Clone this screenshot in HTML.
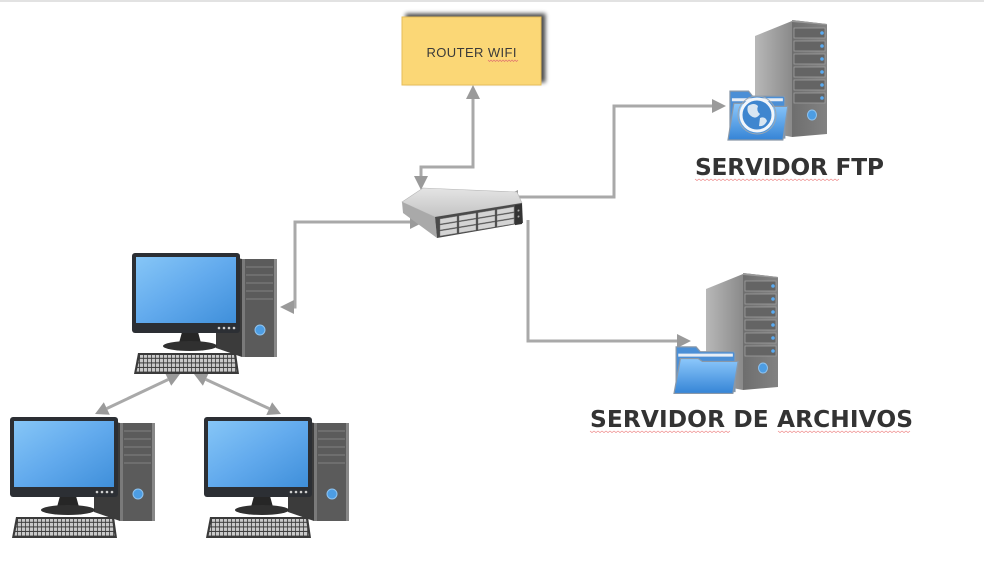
<!DOCTYPE html>
<html><head><meta charset="utf-8"><style>
html,body{margin:0;padding:0;background:#fff;}
svg{display:block;}
</style></head><body>
<svg width="984" height="569" viewBox="0 0 984 569" xmlns="http://www.w3.org/2000/svg">
<defs>
  <linearGradient id="scr" x1="0" y1="0" x2="1" y2="1">
    <stop offset="0" stop-color="#86c6f7"/><stop offset="0.5" stop-color="#62aaed"/><stop offset="1" stop-color="#3f8fda"/>
  </linearGradient>
  <linearGradient id="tside" x1="0" y1="0" x2="1" y2="0">
    <stop offset="0" stop-color="#b8b8b8"/><stop offset="1" stop-color="#8a8a8a"/>
  </linearGradient>
  <linearGradient id="tfront" x1="0" y1="0" x2="1" y2="0">
    <stop offset="0" stop-color="#6e6e6e"/><stop offset="1" stop-color="#828282"/>
  </linearGradient>
  <linearGradient id="fold" x1="0" y1="0" x2="0" y2="1">
    <stop offset="0" stop-color="#8cc8fb"/><stop offset="1" stop-color="#3584d6"/>
  </linearGradient>
  <linearGradient id="swtop" x1="0" y1="0" x2="0" y2="1">
    <stop offset="0" stop-color="#e4e4e4"/><stop offset="1" stop-color="#c4c4c4"/>
  </linearGradient>
  <pattern id="keys" width="4" height="4.6" patternUnits="userSpaceOnUse">
    <rect x="0" y="0" width="3.2" height="3.6" fill="#c9c9c9"/>
  </pattern>
  <filter id="sh" x="-20%" y="-30%" width="140%" height="160%">
    <feGaussianBlur in="SourceAlpha" stdDeviation="2.2"/>
    <feOffset dx="4" dy="-3"/>
    <feComponentTransfer><feFuncA type="linear" slope="0.7"/></feComponentTransfer>
    <feMerge><feMergeNode/><feMergeNode in="SourceGraphic"/></feMerge>
  </filter>

  <g id="pc">
    <polygon points="84,0 110,6 110,104 84,95" fill="#3b3b3b"/>
    <rect x="110" y="6" width="35" height="98" fill="#5b5b5b"/>
    <rect x="110" y="6" width="3" height="98" fill="#7a7a7a"/>
    <rect x="142" y="6" width="3" height="98" fill="#888"/>
    <g stroke="#828282" stroke-width="1">
      <line x1="114" y1="14" x2="141" y2="14"/>
      <line x1="114" y1="22" x2="141" y2="22"/>
      <line x1="114" y1="30" x2="141" y2="30"/>
      <line x1="114" y1="38" x2="141" y2="38"/>
      <line x1="114" y1="46" x2="141" y2="46"/>
    </g>
    <circle cx="128" cy="77" r="5" fill="#4d9de3" stroke="#8fc3ef" stroke-width="1"/>
    <polygon points="50,79 66,79 69,90 47,90" fill="#262626"/>
    <ellipse cx="58" cy="93" rx="27" ry="5" fill="#303030"/>
    <rect x="0" y="0" width="108" height="80" rx="3" fill="#2c2f34"/>
    <rect x="4" y="4" width="100" height="66" fill="url(#scr)"/>
    <g fill="#cfcfcf">
      <circle cx="87" cy="75" r="1.3"/><circle cx="92" cy="75" r="1.3"/><circle cx="97" cy="75" r="1.3"/><circle cx="102" cy="75" r="1.3"/>
    </g>
    <polygon points="6,100 104,100 107,121 2,121" fill="#3a3a3a"/>
    <polygon points="8,102 102,102 104.5,119 4.5,119" fill="url(#keys)"/>
  </g>

  <g id="tower">
    <polygon points="0,16 37,1 37,117 0,110" fill="url(#tside)"/>
    <polygon points="37,0 72,4 72,114 37,117" fill="url(#tfront)"/>
    <polygon points="37,0 72,4 72,5 37,2" fill="#999"/>
    <g fill="#646464" stroke="#9e9e9e" stroke-width="0.8">
      <rect x="39" y="8" width="31" height="10"/>
      <rect x="39" y="21" width="31" height="10"/>
      <rect x="39" y="34" width="31" height="10"/>
      <rect x="39" y="47" width="31" height="10"/>
      <rect x="39" y="60" width="31" height="10"/>
      <rect x="39" y="73" width="31" height="10"/>
    </g>
    <g fill="#5aaaf0">
      <circle cx="67" cy="13" r="1.8"/><circle cx="67" cy="26" r="1.8"/><circle cx="67" cy="39" r="1.8"/>
      <circle cx="67" cy="52" r="1.8"/><circle cx="67" cy="65" r="1.8"/><circle cx="67" cy="78" r="1.8"/>
    </g>
    <ellipse cx="57" cy="95" rx="4.5" ry="5" fill="#4d9de3" stroke="#8fc3ef" stroke-width="1"/>
  </g>

  <g id="folder">
    <path d="M3,4 H22 L26,9 H57 Q59,9 59,11 V50 H3 Z" fill="#4b8fd6" stroke="#8a98a8" stroke-width="1.2"/>
    <path d="M5,11 H57 V14 H5 Z" fill="#e8eef5"/>
    <path d="M7,16 H24 L28,19 H62 L57,52 H1 Z" fill="url(#fold)" stroke="#8a98a8" stroke-width="1.2"/>
  </g>
</defs>

<rect x="0" y="0" width="984" height="2" fill="#e2e2e2"/>

<g stroke="#a9a9a9" stroke-width="3" fill="none">
  <path d="M473,98 V167 H421 V177"/>
  <path d="M517,197 H614 V106 H712"/>
  <path d="M528,220 V341 H677"/>
  <path d="M410,222 H295 V307 H293"/>
  <path d="M168.2,379.5 L106.8,408.5"/>
  <path d="M205.8,379.4 L269.2,408.6"/>
</g>
<g fill="#9a9a9a">
  <polygon points="473,85 466,99 480,99"/>
  <polygon points="421,190 414,176 428,176"/>
  <polygon points="504,197 518,190 518,204"/>
  <polygon points="726,106 712,99 712,113"/>
  <polygon points="691,341 677,334 677,348"/>
  <polygon points="424,222 410,215 410,229"/>
  <polygon points="280,307 294,300 294,314"/>
  <polygon points="180,374 171.2,385.8 165.2,373.2"/>
  <polygon points="95,414 109.8,414.8 103.8,402.2"/>
  <polygon points="194,374 202.9,385.8 208.7,373"/>
  <polygon points="281,414 266.3,415 272.1,402.2"/>
</g>

<rect x="402" y="17" width="139" height="68" fill="#fbd776" stroke="#e6bd5a" stroke-width="1" filter="url(#sh)"/>
<text x="471.5" y="57" text-anchor="middle" font-family="Liberation Sans, Arial, sans-serif" font-size="13" fill="#3a3a3a" textLength="90" lengthAdjust="spacing">ROUTER WIFI</text>
<path d="M488,60 l1.5,1.5 l1.5,-1.5 l1.5,1.5 l1.5,-1.5 l1.5,1.5 l1.5,-1.5 l1.5,1.5 l1.5,-1.5 l1.5,1.5 l1.5,-1.5 l1.5,1.5 l1.5,-1.5 l1.5,1.5 l1.5,-1.5 l1.5,1.5 l1.5,-1.5 l1.5,1.5 l1.5,-1.5 l1.5,1.5 l1.5,-1.5" fill="none" stroke="#e07070" stroke-width="0.7"/>

<g>
  <polygon points="402,202 423,188 517,192 522,203 435,217" fill="url(#swtop)" stroke="#b5b5b5" stroke-width="0.6"/>
  <polygon points="402,202 435,217 437,238 403,213" fill="#a9a9a9"/>
  <polygon points="435,217 522,203 523,223 437,238" fill="#4a4a4a"/>
  <g transform="matrix(1 -0.165 0 1 437 218)">
    <g fill="#d4d4d4" stroke="#777" stroke-width="0.4">
      <rect x="3" y="1.5" width="17" height="5"/><rect x="3" y="7.5" width="17" height="5"/><rect x="3" y="13.5" width="17" height="5"/>
      <rect x="22" y="1.5" width="17" height="5"/><rect x="22" y="7.5" width="17" height="5"/><rect x="22" y="13.5" width="17" height="5"/>
      <rect x="41" y="1.5" width="17" height="5"/><rect x="41" y="7.5" width="17" height="5"/><rect x="41" y="13.5" width="17" height="5"/>
      <rect x="60" y="1.5" width="17" height="5"/><rect x="60" y="7.5" width="17" height="5"/><rect x="60" y="13.5" width="17" height="5"/>
    </g>
    <rect x="78" y="0" width="7" height="20" fill="#333"/>
    <circle cx="81.5" cy="6" r="1" fill="#aaa"/><circle cx="81.5" cy="12" r="1" fill="#aaa"/>
  </g>
</g>

<use href="#tower" x="755" y="20"/>
<use href="#folder" transform="translate(727,87) scale(0.98,1.02)"/>
<circle cx="757" cy="115" r="16" fill="#3f86cf" stroke="#f2f6fa" stroke-width="3"/>
<circle cx="757" cy="115" r="19" fill="none" stroke="#9aa6b2" stroke-width="1"/>
<path d="M748,106 q6,-4 10,0 q-2,5 2,8 q-4,6 -9,2 q-5,-4 -3,-10 Z" fill="#d8e6f2"/>
<path d="M760,118 q5,-2 7,3 q-3,6 -8,5 Z" fill="#d8e6f2"/>

<use href="#tower" x="706" y="273"/>
<use href="#folder" transform="translate(673,343) scale(1.05,0.97)"/>

<use href="#pc" x="132" y="253"/>
<use href="#pc" x="10" y="417"/>
<use href="#pc" x="204" y="417"/>

<g font-family="DejaVu Sans, Verdana, sans-serif" font-weight="bold" font-size="23.3" fill="#333">
  <text x="695" y="175" textLength="189" lengthAdjust="spacing">SERVIDOR FTP</text>
  <text x="590" y="427" textLength="323" lengthAdjust="spacing">SERVIDOR DE ARCHIVOS</text>
</g>
<g fill="none" stroke="#e88" stroke-width="0.7">
  <path d="M695,179 l2,1.5 l2,-1.5 l2,1.5 l2,-1.5 l2,1.5 l2,-1.5 l2,1.5 l2,-1.5 l2,1.5 l2,-1.5 l2,1.5 l2,-1.5 l2,1.5 l2,-1.5 l2,1.5 l2,-1.5 l2,1.5 l2,-1.5 l2,1.5 l2,-1.5 l2,1.5 l2,-1.5 l2,1.5 l2,-1.5 l2,1.5 l2,-1.5 l2,1.5 l2,-1.5 l2,1.5 l2,-1.5 l2,1.5 l2,-1.5 l2,1.5 l2,-1.5 l2,1.5 l2,-1.5 l2,1.5 l2,-1.5 l2,1.5 l2,-1.5 l2,1.5 l2,-1.5 l2,1.5 l2,-1.5 l2,1.5 l2,-1.5 l2,1.5 l2,-1.5 l2,1.5 l2,-1.5 l2,1.5 l2,-1.5 l2,1.5 l2,-1.5 l2,1.5 l2,-1.5 l2,1.5 l2,-1.5 l2,1.5 l2,-1.5 l2,1.5 l2,-1.5 l2,1.5 l2,-1.5 l2,1.5 l2,-1.5 l2,1.5 l2,-1.5 l2,1.5 l2,-1.5 l2,1.5 l2,-1.5"/>
  <path d="M590,431 l2,1.5 l2,-1.5 l2,1.5 l2,-1.5 l2,1.5 l2,-1.5 l2,1.5 l2,-1.5 l2,1.5 l2,-1.5 l2,1.5 l2,-1.5 l2,1.5 l2,-1.5 l2,1.5 l2,-1.5 l2,1.5 l2,-1.5 l2,1.5 l2,-1.5 l2,1.5 l2,-1.5 l2,1.5 l2,-1.5 l2,1.5 l2,-1.5 l2,1.5 l2,-1.5 l2,1.5 l2,-1.5 l2,1.5 l2,-1.5 l2,1.5 l2,-1.5 l2,1.5 l2,-1.5 l2,1.5 l2,-1.5 l2,1.5 l2,-1.5 l2,1.5 l2,-1.5 l2,1.5 l2,-1.5 l2,1.5 l2,-1.5 l2,1.5 l2,-1.5 l2,1.5 l2,-1.5 l2,1.5 l2,-1.5 l2,1.5 l2,-1.5 l2,1.5 l2,-1.5 l2,1.5 l2,-1.5 l2,1.5 l2,-1.5 l2,1.5 l2,-1.5 l2,1.5 l2,-1.5 l2,1.5 l2,-1.5 l2,1.5 l2,-1.5 l2,1.5 l2,-1.5"/>
  <path d="M778,431 l2,1.5 l2,-1.5 l2,1.5 l2,-1.5 l2,1.5 l2,-1.5 l2,1.5 l2,-1.5 l2,1.5 l2,-1.5 l2,1.5 l2,-1.5 l2,1.5 l2,-1.5 l2,1.5 l2,-1.5 l2,1.5 l2,-1.5 l2,1.5 l2,-1.5 l2,1.5 l2,-1.5 l2,1.5 l2,-1.5 l2,1.5 l2,-1.5 l2,1.5 l2,-1.5 l2,1.5 l2,-1.5 l2,1.5 l2,-1.5 l2,1.5 l2,-1.5 l2,1.5 l2,-1.5 l2,1.5 l2,-1.5 l2,1.5 l2,-1.5 l2,1.5 l2,-1.5 l2,1.5 l2,-1.5 l2,1.5 l2,-1.5 l2,1.5 l2,-1.5 l2,1.5 l2,-1.5 l2,1.5 l2,-1.5 l2,1.5 l2,-1.5 l2,1.5 l2,-1.5 l2,1.5 l2,-1.5 l2,1.5 l2,-1.5 l2,1.5 l2,-1.5 l2,1.5 l2,-1.5 l2,1.5 l2,-1.5"/>
</g>
</svg>
</body></html>
